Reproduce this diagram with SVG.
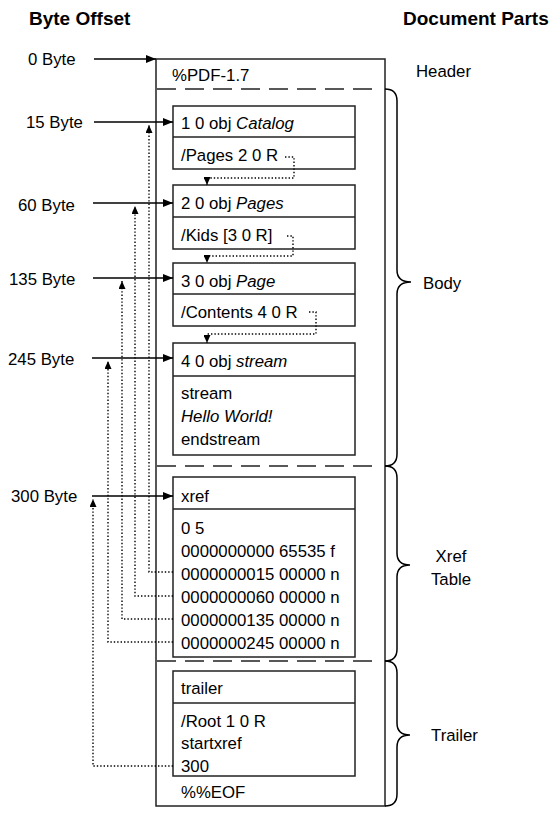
<svg xmlns="http://www.w3.org/2000/svg" width="560" height="821" viewBox="0 0 560 821">
<style>
text{font-family:"Liberation Sans",Arial,sans-serif;font-size:16.8px;fill:#000}
.h{font-weight:bold;font-size:19px}
.i{font-style:italic}
.box{fill:#fff;stroke:#222;stroke-width:1.5}
.dash{stroke:#222;stroke-width:1.5;stroke-dasharray:19 9;fill:none}
.arr{stroke:#000;stroke-width:1.5;fill:none;marker-end:url(#a)}
.dot{stroke:#000;stroke-width:1.4;stroke-dasharray:1.4 2;fill:none;marker-end:url(#d)}
.brace{stroke:#000;stroke-width:1.5;fill:none}
</style>
<defs>
<marker id="a" markerUnits="userSpaceOnUse" markerWidth="10" markerHeight="8" refX="10" refY="4" orient="auto"><path d="M0,0 L10,4 L0,8 z" fill="#000"/></marker>
<marker id="d" markerUnits="userSpaceOnUse" markerWidth="8" markerHeight="7" refX="8" refY="3.5" orient="auto"><path d="M0,0 L8,3.5 L0,7 z" fill="#000"/></marker>
</defs>

<text class="h" x="29" y="25">Byte Offset</text>
<text class="h" x="403" y="25">Document Parts</text>

<g id="file">
<rect class="box" x="156" y="59" width="229" height="747"/>
<line class="dash" x1="157" y1="89" x2="381" y2="89"/>
<line class="dash" x1="157" y1="466" x2="381" y2="466"/>
<line class="dash" x1="157" y1="661" x2="381" y2="661"/>
<text x="172" y="81">%PDF-1.7</text>
<text x="181" y="798">%%EOF</text>
</g>

<g id="obj1">
<rect class="box" x="173" y="106" width="182" height="63"/>
<line class="box" x1="173" y1="137" x2="355" y2="137"/>
<text x="181" y="129">1 0 obj <tspan class="i">Catalog</tspan></text>
<text x="181" y="161">/Pages 2 0 R</text>
</g>

<g id="obj2">
<rect class="box" x="173" y="185" width="182" height="64"/>
<line class="box" x1="173" y1="217" x2="355" y2="217"/>
<text x="181" y="209">2 0 obj <tspan class="i">Pages</tspan></text>
<text x="181" y="241">/Kids [3 0 R]</text>
</g>

<g id="obj3">
<rect class="box" x="173" y="263" width="182" height="63"/>
<line class="box" x1="173" y1="294" x2="355" y2="294"/>
<text x="181" y="287">3 0 obj <tspan class="i">Page</tspan></text>
<text x="181" y="318">/Contents 4 0 R</text>
</g>

<g id="obj4">
<rect class="box" x="173" y="343" width="182" height="112"/>
<line class="box" x1="173" y1="376" x2="355" y2="376"/>
<text x="181" y="367">4 0 obj <tspan class="i">stream</tspan></text>
<text x="181" y="399">stream</text>
<text x="181" y="422" class="i">Hello World!</text>
<text x="181" y="445">endstream</text>
</g>

<g id="xref">
<rect class="box" x="173" y="477" width="182" height="180"/>
<line class="box" x1="173" y1="509" x2="355" y2="509"/>
<text x="181" y="502">xref</text>
<text x="181" y="534">0 5</text>
<text x="181" y="557">0000000000 65535 f</text>
<text x="181" y="580">0000000015 00000 n</text>
<text x="181" y="603">0000000060 00000 n</text>
<text x="181" y="626">0000000135 00000 n</text>
<text x="181" y="649">0000000245 00000 n</text>
</g>

<g id="trailer">
<rect class="box" x="173" y="671" width="182" height="105"/>
<line class="box" x1="173" y1="703" x2="355" y2="703"/>
<text x="181" y="694">trailer</text>
<text x="181" y="727">/Root 1 0 R</text>
<text x="181" y="749">startxref</text>
<text x="181" y="772">300</text>
</g>

<g id="offsets">
<text x="28" y="65">0 Byte</text>
<text x="26" y="128">15 Byte</text>
<text x="18" y="211">60 Byte</text>
<text x="9" y="285">135 Byte</text>
<text x="8" y="365">245 Byte</text>
<text x="11" y="502">300 Byte</text>
</g>

<g id="parts">
<path class="brace" d="M385,89 Q397,89 397,101 V270 Q397,282 411,282 Q397,282 397,294 V454 Q397,466 385,466"/>
<path class="brace" d="M385,466 Q397,466 397,478 V553 Q397,565 410,565 Q397,565 397,577 V649 Q397,661 385,661"/>
<path class="brace" d="M385,661 Q397,661 397,673 V723 Q397,735 410,735 Q397,735 397,747 V794 Q397,806 385,806"/>
<text x="416" y="77">Header</text>
<text x="423" y="289">Body</text>
<text x="451" y="562" text-anchor="middle">Xref</text>
<text x="451" y="585" text-anchor="middle">Table</text>
<text x="431" y="741">Trailer</text>
</g>

<g id="connectors">
<path class="arr" d="M94,59 H156"/>
<path class="arr" d="M94,122 H173"/>
<path class="arr" d="M93,203 H173"/>
<path class="arr" d="M93,278 H173"/>
<path class="arr" d="M92,358 H173"/>
<path class="arr" d="M92,496 H173"/>
<path class="dot" d="M285,157 H294 V178 H207 V185"/>
<path class="dot" d="M287,236 H293 V256 H207 V263"/>
<path class="dot" d="M309,312 H316 V334 H207 V343"/>
<path class="dot" d="M173,572 H149 V125"/>
<path class="dot" d="M173,596 H135 V206"/>
<path class="dot" d="M173,619 H122 V281"/>
<path class="dot" d="M173,642 H108 V361"/>
<path class="dot" d="M173,766 H93 V499"/>
</g>
</svg>
